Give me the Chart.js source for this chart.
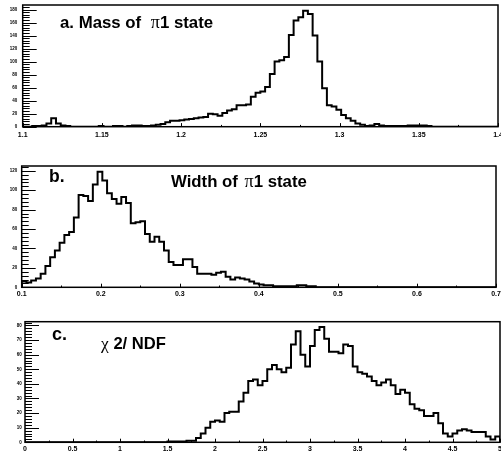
<!DOCTYPE html>
<html><head><meta charset="utf-8">
<script src="https://cdn.jsdelivr.net/npm/chart.js@4"></script>
<style>
html,body{margin:0;padding:0;background:#fff;}
#wrap{position:relative;width:501px;height:458px;overflow:hidden;background:#fff;}
canvas{position:absolute;left:0;}
.t{position:absolute;font-family:"Liberation Sans",Arial,sans-serif;font-weight:bold;color:#000;white-space:nowrap;line-height:1;}
.g{font-family:"Liberation Serif",serif;font-weight:normal;}
</style></head><body>
<div id="wrap">
<canvas id="ca" width="501" height="145" style="top:0px"></canvas>
<canvas id="cb" width="501" height="160" style="top:145px"></canvas>
<canvas id="cc" width="501" height="153" style="top:305px"></canvas>
<div class="t" style="left:60px;top:12.5px;font-size:16.8px">a. Mass of <span class="g" style="margin-left:5px;font-size:18px">π</span>1 state</div>
<div class="t" style="left:49px;top:167.7px;font-size:17.5px">b.</div>
<div class="t" style="left:171px;top:172.3px;font-size:16.8px">Width of <span class="g" style="margin-left:2px;font-size:18px">π</span>1 state</div>
<div class="t" style="left:52px;top:324.8px;font-size:18px">c.</div>
<div class="t" style="left:101px;top:335.3px;font-size:16.6px"><span class="g" style="font-size:17.5px">χ</span> 2/ NDF</div>
</div>
<script>
// ---- data ----
const massRange = [1.1, 1.4];
const massCounts = [
  0,0,1,1,2,5,13,5,2,1,
  0,0,0,0,0,0,1,0,0,1,
  1,0,1,2,2,1,1,2,3,4,
  7,9,9,10,11,12,13,14,15,20,
  19,17,21,25,27,33,33,34,46,52,
  54,61,81,100,102,107,141,163,168,178,
  173,140,100,59,33,31,26,18,13,9,
  5,3,1,2,4,2,1,1,1,1,
  1,2,2,2,2,1,0,0,0,0,
  0,0,0,0,0,0,0,0,0,0];
const massXTicks = [1.1,1.15,1.2,1.25,1.3,1.35,1.4];
const massYTicks = [0,20,40,60,80,100,120,140,160,180];

const widthRange = [0.1, 0.7];
const widthCounts = [
  6,5,7,9,14,22,31,38,46,54,
  57,72,95,94,89,106,119,110,97,91,
  86,93,87,66,67,68,55,47,52,47,
  38,26,23,23,29,29,21,14,14,14,
  13,15,16,11,8,10,9,8,6,4,
  3,2,2,1,1,1,1,1,2,2,
  1,1,0,0,0,0,0,0,0,0,
  0,0,0,0,0,0,0,0,0,0,
  0,0,0,0,0,0,0,0,0,0,
  0,0,0,0,0,0,0,0,0,0];
const widthXTicks = [0.1,0.2,0.3,0.4,0.5,0.6,0.7];
const widthYTicks = [0,20,40,60,80,100,120];

const chiRange = [0, 5];
const chiCounts = [
  0,0,0,0,0,0,0,0,0,0,
  0,0,0,0,0,0,0,0,0,0,
  0,0,0,0,0,0,0,0,0,0,
  0.5,0.5,0.5,0.5,1,1,3,6,10,14,
  15,14,20,21,21,28,34,42,43,39,
  42,50,53,50,48,51,67,76,60,52,
  66,77,79,71,62,62,61,67,66,52,
  48,47,45,42,39,41,43,39,33,36,
  34,26,23,22,18,18,20,13,6,4,
  6,8,9,8,7,7,7,4,2,4];
const chiXTicks = [0,0.5,1,1.5,2,2.5,3,3.5,4,4.5,5];
const chiYTicks = [0,10,20,30,40,50,60,70,80];

// ---- helpers ----
function histPoints(range, counts){
  const n = counts.length, w = (range[1]-range[0])/n;
  const pts = [{x: range[0], y: 0}];
  counts.forEach((c,i)=>pts.push({x: range[0]+i*w, y: c}));
  pts.push({x: range[1], y: counts[n-1]});
  pts.push({x: range[1], y: 0});
  return pts;
}
const fmt = v => String(Math.round(v*1000)/1000);

const frameTicks = {
  id:'frameTicks',
  afterDatasetsDraw(chart, args, o){
    const {ctx, chartArea:a, scales:{x,y}} = chart;
    ctx.save();
    ctx.strokeStyle = '#000';
    ctx.lineWidth = 1;
    ctx.beginPath();
    let n = Math.round((y.max - y.min)/o.yMinor);
    for(let i=0;i<=n;i++){
      const v = y.min + i*o.yMinor;
      if (v > y.max + 1e-9) break;
      const p = Math.round(y.getPixelForValue(v)) + 0.5;
      const r = v/o.yMajor, major = Math.abs(r-Math.round(r))<1e-6;
      ctx.moveTo(a.left, p); ctx.lineTo(a.left + (major ? o.yLen : o.yLen/2), p);
    }
    n = Math.round((x.max - x.min)/o.xMinor);
    for(let i=0;i<=n;i++){
      const v = x.min + i*o.xMinor;
      const p = Math.round(x.getPixelForValue(v)) + 0.5;
      const r = (v - o.xOrigin)/o.xMajor, major = Math.abs(r-Math.round(r))<1e-6;
      ctx.moveTo(p, a.bottom); ctx.lineTo(p, a.bottom - (major ? o.xLen : o.xLen/2));
    }
    ctx.stroke();
    ctx.lineWidth = o.frameW;
    ctx.strokeRect(a.left, a.top, a.right-a.left, a.bottom-a.top);
    ctx.restore();
  }
};

function makeChart(id, c){
  return new Chart(document.getElementById(id), {
    type:'line',
    data:{datasets:[{data: histPoints(c.range, c.counts), stepped:true, borderColor:'#000',
      borderWidth:2, pointRadius:0, fill:false, tension:0}]},
    options:{
      responsive:false, animation:false, devicePixelRatio:1,
      layout:{padding:c.pad},
      plugins:{legend:{display:false}, tooltip:{enabled:false},
        frameTicks:{yMinor:c.yMinor, yMajor:c.yMajor, yLen:14, xMinor:c.xMinor, xMajor:c.xMajor,
          xOrigin:c.range[0], xLen:3.6, frameW:1.5}},
      scales:{
        x:{type:'linear', min:c.range[0], max:c.range[1],
          grid:{display:false, drawTicks:false}, border:{display:false},
          afterBuildTicks: s => { s.ticks = c.xTicks.map(v=>({value:v})); },
          ticks:{autoSkip:false, maxRotation:0, minRotation:0, padding:c.xPad, color:'#000',
            font:{family:'Liberation Sans', weight:'bold', size:7}, callback: v => fmt(v)},
          afterFit: s => { s.height = c.xH; s.paddingLeft = 0; s.paddingRight = 0; }
        },
        y:{type:'linear', min:0, max:c.yMax,
          grid:{display:false, drawTicks:false}, border:{display:false},
          afterBuildTicks: s => { s.ticks = c.yTicks.map(v=>({value:v})); },
          ticks:{autoSkip:false, padding:c.yPad, color:'#000',
            font:{family:'Liberation Sans', weight:'bold', size:4.5}, callback: v => fmt(v)},
          afterFit: s => { s.width = c.yW; s.paddingTop = 0; s.paddingBottom = 0; }
        }
      }
    },
    plugins:[frameTicks]
  });
}

makeChart('ca', {range:massRange, counts:massCounts, xTicks:massXTicks, yTicks:massYTicks,
  yMax:187, pad:{left:0,right:3,top:5,bottom:0}, yW:22.7, xH:18.3, xPad:4.5, yPad:5.5,
  yMinor:4, yMajor:20, xMinor:0.025, xMajor:0.05});
makeChart('cb', {range:widthRange, counts:widthCounts, xTicks:widthXTicks, yTicks:widthYTicks,
  yMax:125, pad:{left:0,right:5,top:21,bottom:0}, yW:21.7, xH:17.7, xPad:2.5, yPad:4.4,
  yMinor:4, yMajor:20, xMinor:0.05, xMajor:0.1});
makeChart('cc', {range:chiRange, counts:chiCounts, xTicks:chiXTicks, yTicks:chiYTicks,
  yMax:82.6, pad:{left:0,right:1,top:16.7,bottom:0}, yW:25, xH:15.7, xPad:3, yPad:3.3,
  yMinor:2, yMajor:10, xMinor:0.25, xMajor:0.5});
</script>
</body></html>
